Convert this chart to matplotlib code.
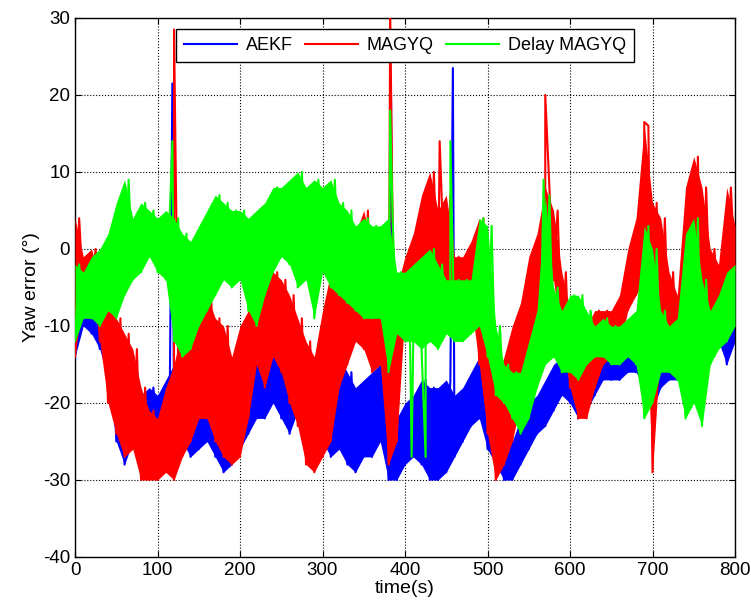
#!/usr/bin/env python3
"""Yaw error of AEKF, MAGYQ and delayed MAGYQ over time."""

import matplotlib
matplotlib.use("Agg")
import matplotlib.pyplot as plt
import numpy as np

plt.rcParams["font.family"] = ["Liberation Sans", "DejaVu Sans"]
plt.rcParams["axes.unicode_minus"] = False

# sample times (s), envelope of each noisy trace read every 10 s
t = np.arange(0, 801, 10)

aekf_lo = [-14, -10, -11, -13, -17, -25, -28, -25, -25, -24, -24, -24, -22, -25, -27, -26, -25,
           -27, -29, -28, -26, -24, -22, -22, -20, -22, -24, -21, -20, -22, -25, -27, -26, -28,
           -29, -27, -27, -25, -30, -30, -28, -27, -28, -30, -30, -29, -27, -25, -23, -22, -26,
           -28, -30, -30, -28, -26, -24, -23, -21, -19, -20, -22, -21, -19, -17, -17, -17, -16,
           -16, -18, -21, -18, -17, -17, -16, -15, -15, -13, -12, -15, -12]
aekf_hi = [-3, -6, -7, -8, -11, -14, -17, -18, -19, -18, -19, -17, -15, -15, -17, -16, -17,
           -18, -18, -17, -16, -14, -12, -13, -12, -14, -14, -11, -13, -14, -14, -16, -14, -16,
           -18, -17, -16, -15, -14, -22, -20, -19, -17, -18, -18, -17, -19, -18, -16, -14, -17,
           -23, -24, -25, -22, -20, -19, -17, -15, -14, -12, -13, -13, -12, -12, -11, -11, -11,
           -11, -11, -11, -11, -11, -12, -11, -10, -10, -9, -8, -7, -9]

magyq_lo = [-14, -6, -5, -12, -20, -24, -27, -26, -30, -30, -30, -29, -30, -27, -25, -22, -22,
            -25, -27, -28, -27, -22, -15, -18, -14, -16, -20, -23, -28, -29, -27, -25, -18, -15,
            -12, -13, -16, -15, -28, -25, -8, -8, -7, -9, -7, -6, -6, -7, -7, -15, -24,
            -30, -28, -25, -20, -14, -8, -6, -4, -12, -18, -22, -22, -18, -15, -14, -13, -8,
            -6, -4, -29, -12, -14, -16, -12, -18, -14, -8, -7, -5, -3]
magyq_hi = [4, -1, 0, -4, -8, -9, -11, -13, -18, -21, -22, -18, -15, -10, -10, -8, -6,
            -9, -10, -14, -10, -8, -4, -3, -3, -4, -6, -9, -12, -14, -8, -3, -1, 0,
            2, 5, 0, 0, 3, -5, -1, 2, 7, 10, 5, 7, -1, -1, 1, 4, -10,
            -18, -14, -10, -7, -1, 2, 8, 5, -3, -8, -8, -10, -8, -8, -8, -6, 0,
            4, 16, 6, 4, -3, -6, 8, 12, 8, 0, -2, 8, 3]

delay_lo = [-12, -9, -9, -10, -8, -9, -6, -4, -3, -1, -3, -4, -12, -14, -13, -10, -8,
            -6, -4, -5, -4, -8, -10, -6, -3, -1, -2, -5, -4, -9, -3, -5, -6, -7,
            -8, -9, -9, -9, -16, -11, -12, -12, -13, -12, -13, -11, -12, -12, -11, -10, -14,
            -19, -20, -22, -24, -22, -18, -15, -14, -16, -16, -17, -15, -14, -14, -15, -15, -14,
            -15, -22, -20, -16, -16, -17, -22, -20, -23, -15, -13, -12, -10]
delay_hi = [-2, -3, -1, 0, 2, 6, 9, 4, 6, 5, 4, 5, 4, 2, 1, 3, 5,
            7, 6, 5, 5, 4, 5, 6, 8, 8, 9, 10, 8, 9, 8, 9, 6, 5,
            3, 4, 3, 3, 4, -3, -3, -2, -1, 0, -2, -4, -4, -4, -4, 4, 3,
            -10, -15, -16, -16, -12, -8, 7, -5, -8, -6, -6, -8, -10, -9, -10, -10, -9,
            -8, 3, 0, -8, -10, -9, 2, 4, -4, -8, -6, -3, -2]

# isolated spikes (time s, value deg)
aekf_spikes = [(118, 21.5), (383, 20), (458, 23.5)]
magyq_spikes = [(120, 28.5), (382, 31), (442, 14), (570, 20), (690, 16.5), (700, -29)]
delay_spikes = [(118, 14), (382, 18), (408, -27), (425, -27), (455, 14), (568, 9)]

series = [
    ("AEKF", aekf_lo, aekf_hi, aekf_spikes, "#0000ff"),
    ("MAGYQ", magyq_lo, magyq_hi, magyq_spikes, "#ff0000"),
    ("Delay MAGYQ", delay_lo, delay_hi, delay_spikes, "#00ff00"),
]


def trace(lo, hi, spikes):
    # zig-zag between the read envelope values, spikes inserted in time order
    pts = []
    for i, ti in enumerate(t):
        pts.append((ti, lo[i]))
        pts.append((ti + 5, hi[i]))
    pts += list(spikes)
    pts = sorted(p for p in pts if p[0] <= 800)
    return [p[0] for p in pts], [p[1] for p in pts]


def main():
    fig = plt.figure(figsize=(7.51, 6.10), dpi=100)
    ax = fig.add_axes([0.0999, 0.0869, 0.8788, 0.8836])

    for z, (name, lo, hi, spikes, color) in enumerate(series):
        ax.fill_between(t, lo, hi, color=color, linewidth=0, zorder=2 + z)
        xs, ys = trace(lo, hi, spikes)
        ax.plot(xs, ys, color=color, linewidth=1.5, label=name, zorder=2 + z)

    ax.set_xlim(0, 800)
    ax.set_ylim(-40, 30)
    ax.set_xticks(np.arange(0, 801, 100))
    ax.set_yticks(np.arange(-40, 31, 10))
    ax.grid(True, color="black", linestyle=":", linewidth=0.8)
    ax.tick_params(direction="in", labelsize=13.5, top=True, right=True, length=4)
    for s in ax.spines.values():
        s.set_linewidth(1.0)
    ax.set_xlabel("time(s)", fontsize=14, labelpad=1)
    ax.set_ylabel("Yaw error (°)", fontsize=14, labelpad=2)

    leg = ax.legend(loc="upper center", ncol=3, fontsize=13, handlelength=2.9,
                    fancybox=False, framealpha=1, edgecolor="black",
                    borderaxespad=0.6, columnspacing=0.7, handletextpad=0.5,
                    borderpad=0.45)
    leg.get_frame().set_linewidth(1.0)
    leg.set_zorder(10)

    fig.savefig("out.png", dpi=100)


if __name__ == "__main__":
    main()
